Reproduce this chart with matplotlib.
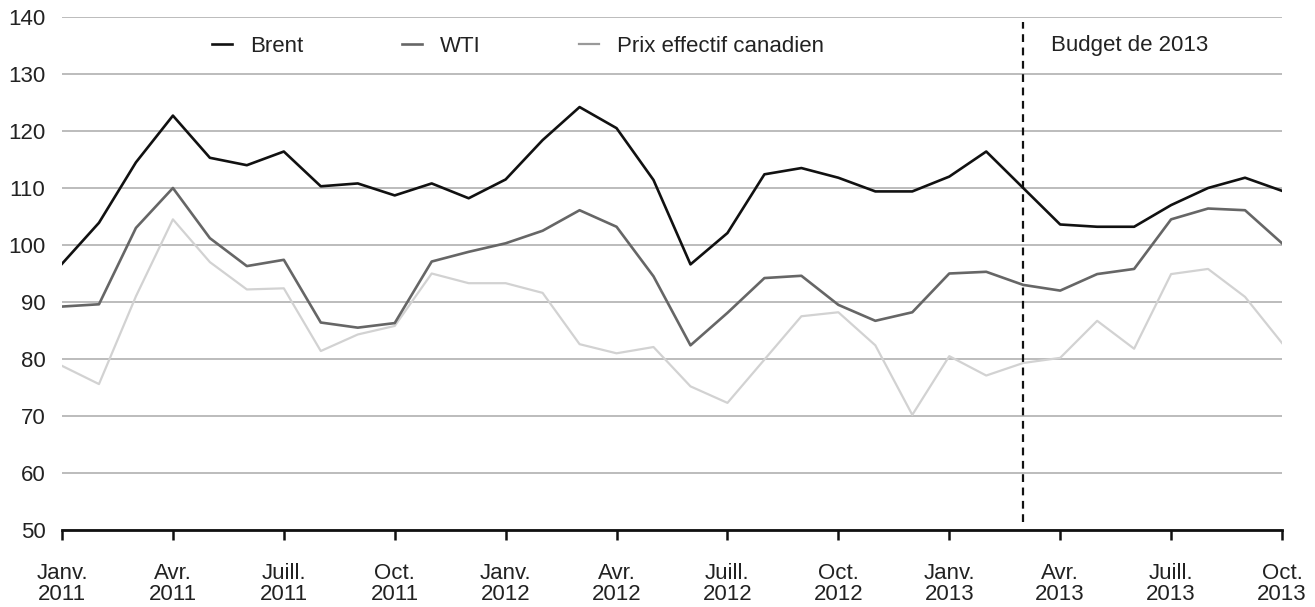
import matplotlib; matplotlib.use('Agg'); import matplotlib.pyplot as plt

plt.rcParams['font.family'] = ['Liberation Sans', 'DejaVu Sans']

# monthly, Jan 2011 .. Oct 2013
brent = [96.7, 103.9, 114.5, 122.7, 115.3, 114.0, 116.4, 110.3, 110.8, 108.7, 110.8, 108.2,
         111.5, 118.4, 124.2, 120.5, 111.4, 96.6, 102.1, 112.4, 113.5, 111.8, 109.4, 109.4,
         112.0, 116.4, 110.0, 103.6, 103.2, 103.2, 107.0, 110.0, 111.8, 109.5]
wti = [89.2, 89.6, 103.0, 110.0, 101.2, 96.3, 97.4, 86.4, 85.5, 86.3, 97.1, 98.8,
       100.3, 102.5, 106.1, 103.2, 94.5, 82.4, 88.1, 94.2, 94.6, 89.5, 86.7, 88.2,
       95.0, 95.3, 93.0, 92.0, 94.9, 95.8, 104.5, 106.4, 106.1, 100.3]
canada = [78.8, 75.6, 91.0, 104.5, 97.0, 92.2, 92.4, 81.4, 84.3, 85.8, 95.0, 93.3,
          93.3, 91.6, 82.6, 81.0, 82.1, 75.2, 72.3, 79.9, 87.5, 88.2, 82.4, 70.2,
          80.5, 77.1, 79.3, 80.2, 86.7, 81.8, 94.9, 95.8, 90.9, 82.8]
series_names = ["Brent", "WTI", "Prix effectif canadien"]
tick_labels = ["Janv.\n2011", "Avr.\n2011", "Juill.\n2011", "Oct.\n2011",
               "Janv.\n2012", "Avr.\n2012", "Juill.\n2012", "Oct.\n2012",
               "Janv.\n2013", "Avr.\n2013", "Juill.\n2013", "Oct.\n2013"]
budget_month = 26  # mars 2013
budget_label = "Budget de 2013"

months = list(range(len(brent)))
FS = 16

fig = plt.figure(figsize=(13.15, 6.07), dpi=100, facecolor='white')
ax = fig.add_axes([62/1315, 1-530/607, 1220/1315, 513/607])

ax.plot(months, brent, color='#111111', lw=1.9, label=series_names[0], zorder=5)
ax.plot(months, wti, color='#666666', lw=1.9, label=series_names[1], zorder=4)
ax.plot(months, canada, color='#d2d2d2', lw=1.6, label=series_names[2], zorder=3)

ax.axvline(budget_month, ymin=0.015, ymax=0.99, color='#111111', lw=1.6,
           linestyle=(0, (3.5, 2.5)), zorder=6)
ax.text(budget_month + 0.75, 135, budget_label, fontsize=FS, color='#222222',
        va='center', ha='left')

ax.set_xlim(0, len(brent) - 1)
ax.set_ylim(50, 140)
ax.set_yticks(range(50, 141, 10))
ax.set_xticks(months[::3])
ax.set_xticklabels(tick_labels, fontsize=FS, color='#222222', linespacing=1.0)
ax.tick_params(axis='y', length=0, pad=12, labelsize=FS, labelcolor='#222222')
ax.tick_params(axis='x', length=7, width=1.8, color='#111111', pad=17)
ax.grid(axis='y', color='#aaaaaa', lw=1.1)
ax.set_axisbelow(True)
for s in ['left', 'right', 'top']:
    ax.spines[s].set_visible(False)
ax.spines['bottom'].set_linewidth(2.0)
ax.spines['bottom'].set_color('#111111')

leg = ax.legend(loc='center left', bbox_to_anchor=((212-62)/1220, (530-46)/513),
                ncol=3, frameon=False, fontsize=FS, handlelength=0.9,
                handletextpad=0.8, columnspacing=4.45, borderpad=0, borderaxespad=0)
for t in leg.get_texts():
    t.set_color('#222222')
leg.legend_handles[2].set_color('#999999')

plt.savefig("out.png", dpi=100, facecolor='white')
